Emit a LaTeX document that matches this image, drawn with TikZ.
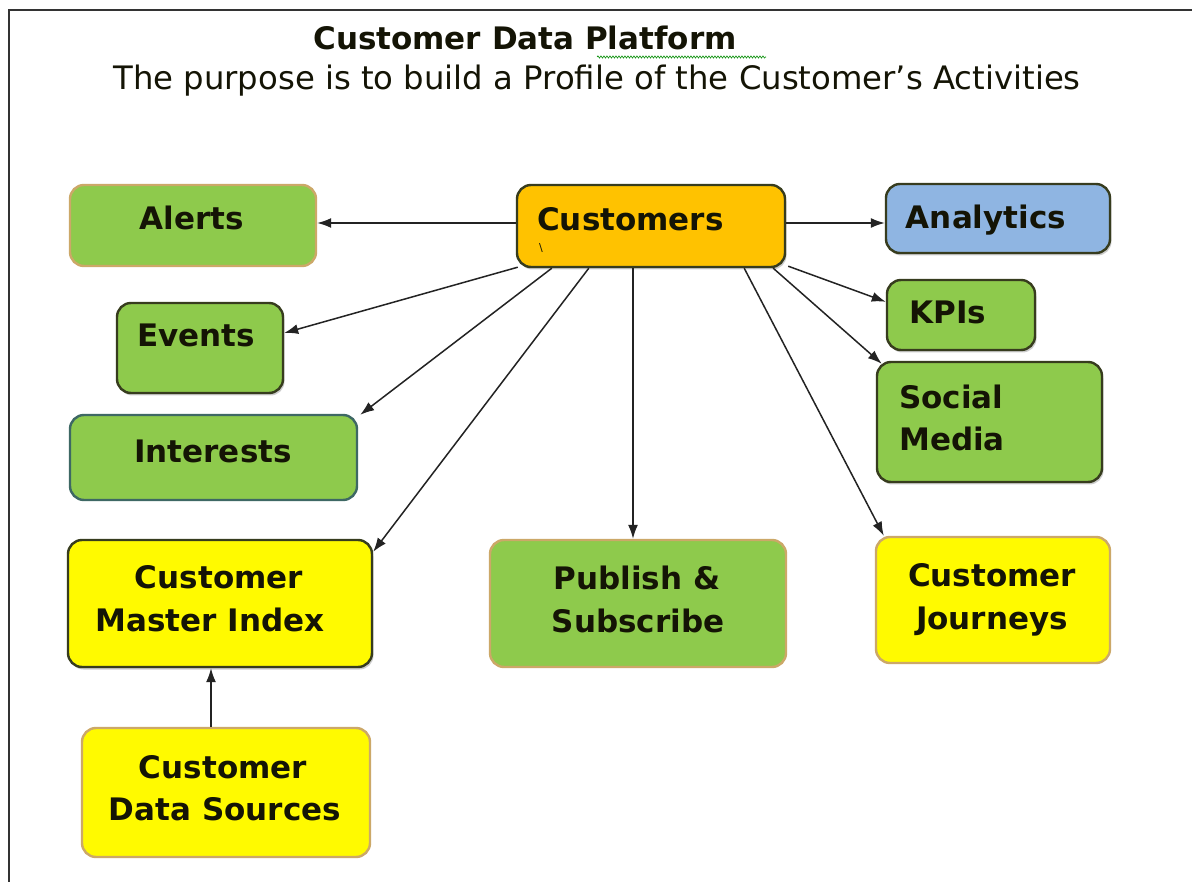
\documentclass[tikz,border=0pt]{standalone}
\usepackage{fontspec}
\setmainfont{DejaVu Sans}
\usetikzlibrary{arrows.meta,decorations.pathmorphing,shadows}
\definecolor{gold}{RGB}{255,194,0}
\definecolor{grn}{RGB}{142,202,76}
\definecolor{yel}{RGB}{255,250,0}
\definecolor{blu}{RGB}{143,181,226}
\definecolor{tan}{RGB}{204,168,104}
\definecolor{darkb}{RGB}{55,60,30}
\definecolor{teal}{RGB}{62,104,100}
\definecolor{txtc}{RGB}{20,20,5}
\definecolor{linec}{RGB}{35,35,35}
\begin{document}
\begin{tikzpicture}[x=1pt,y=-1pt,
  box/.style={draw, line width=2.4pt, rounded corners=14pt, inner sep=0pt},
  bev/.style={drop shadow={shadow xshift=1.5pt, shadow yshift=-2.5pt, opacity=.4}},
  lbl/.style={anchor=base, font=\bfseries\fontsize{31}{37}\selectfont, text=txtc, inner sep=0pt},
  conn/.style={draw=linec, line width=1.5pt, -{Latex[length=14pt,width=10pt]}},
  frame/.style={draw=black!80, line width=1.6pt}
]
\useasboundingbox (0,0) rectangle (1192,882);
\fill[white] (0,0) rectangle (1192,882);
% frame
\coordinate (fbl) at (9,882);
\coordinate (ftl) at (9,10);
\coordinate (ftr) at (1192,10);
\draw[frame] (fbl) -- (ftl) -- (ftr);

% titles
\node[anchor=base, inner sep=0pt, font=\bfseries\fontsize{31}{37}\selectfont, text=txtc] (title) at (525,50) {Customer Data Platform};
\coordinate (sq1) at (597,57);
\coordinate (sq2) at (766,57);
\draw[green!55!black, line width=0.6pt, decorate, decoration={snake, amplitude=1.1pt, segment length=3pt}] (sq1) -- (sq2);
\node[anchor=base, inner sep=0pt, font=\fontsize{32.3}{38}\selectfont, text=txtc] (subtitle) at (597,90) {The purpose is to build a Profile of the Customer’s Activities};

% boxes
\node[box, bev, fill=gold, draw=darkb, minimum width=268pt, minimum height=82pt] (cust) at (651,226) {};
\node[box, fill=grn, draw=tan, minimum width=246pt, minimum height=81pt] (alerts) at (193,225.5) {};
\node[box, bev, fill=grn, draw=darkb, minimum width=166pt, minimum height=90pt] (events) at (200,348) {};
\node[box, fill=grn, draw=teal, minimum width=287pt, minimum height=85pt] (inter) at (213.5,457.5) {};
\node[box, bev, fill=yel, draw=darkb, minimum width=304pt, minimum height=127pt] (cmi) at (220,603.5) {};
\node[box, fill=yel, draw=tan, minimum width=288pt, minimum height=129pt] (cds) at (226,792.5) {};
\node[box, fill=grn, draw=tan, minimum width=296pt, minimum height=127pt] (pub) at (638,603.5) {};
\node[box, fill=yel, draw=tan, minimum width=234pt, minimum height=126pt] (jour) at (993,600) {};
\node[box, bev, fill=blu, draw=darkb, minimum width=224pt, minimum height=69pt] (anal) at (998,218.5) {};
\node[box, bev, fill=grn, draw=darkb, minimum width=148pt, minimum height=70pt] (kpi) at (961,315) {};
\node[box, bev, fill=grn, draw=darkb, minimum width=225pt, minimum height=120pt] (soc) at (989.5,422) {};

% labels
\node[lbl, anchor=base west] (custt) at (537,231) {Customers};
\node[font=\fontsize{11}{11}\selectfont, text=txtc, inner sep=0pt] (bs) at (541,248) {\textbackslash};
\node[lbl] (alertst) at (192,230) {Alerts};
\node[lbl] (eventst) at (196,347) {Events};
\node[lbl] (intert) at (213,463) {Interests};
\node[lbl] (cmit1) at (219,588) {Customer};
\node[lbl] (cmit2) at (210,631) {Master Index};
\node[lbl] (cdst1) at (223,778) {Customer};
\node[lbl] (cdst2) at (225,820) {Data Sources};
\node[lbl] (pubt1) at (637,589) {Publish \&};
\node[lbl] (pubt2) at (638,632) {Subscribe};
\node[lbl] (jourt1) at (992,586) {Customer};
\node[lbl] (jourt2) at (992,629) {Journeys};
\node[lbl] (analt) at (986,229) {Analytics};
\node[lbl] (kpit) at (948,324) {KPIs};
\node[lbl, anchor=base west] (soct1) at (899,409) {Social};
\node[lbl, anchor=base west] (soct2) at (899,451) {Media};

% connectors
\draw[conn] (cust.west |- 0,223) -- (alerts.east |- 0,223);
\draw[conn] (cust.east |- 0,223) -- (anal.west |- 0,223);
\draw[conn] ([xshift=2pt,yshift=1pt]cust.south west) -- ([yshift=15pt]events.east);
\draw[conn] ([xshift=36pt]cust.south west) -- ([xshift=2pt,yshift=-1pt]inter.north east);
\draw[conn] ([xshift=73pt]cust.south west) -- ([yshift=-13pt]cmi.north east);
\draw[conn] ([xshift=-5pt]pub.north |- cust.south) -- ([xshift=-5pt]pub.north);
\draw[conn] ([xshift=-42pt]cust.south east) -- ([xshift=9pt]jour.north west);
\draw[conn] ([xshift=-13pt]cust.south east) -- ([xshift=6pt,yshift=-3pt]soc.north west);
\draw[conn] ([xshift=2pt,yshift=2pt]cust.south east) -- ([yshift=-23pt]kpi.north west);
\draw[conn] ([xshift=-15pt]cds.north) -- ([xshift=-15pt]cds.north |- cmi.south);
\end{tikzpicture}
\end{document}
